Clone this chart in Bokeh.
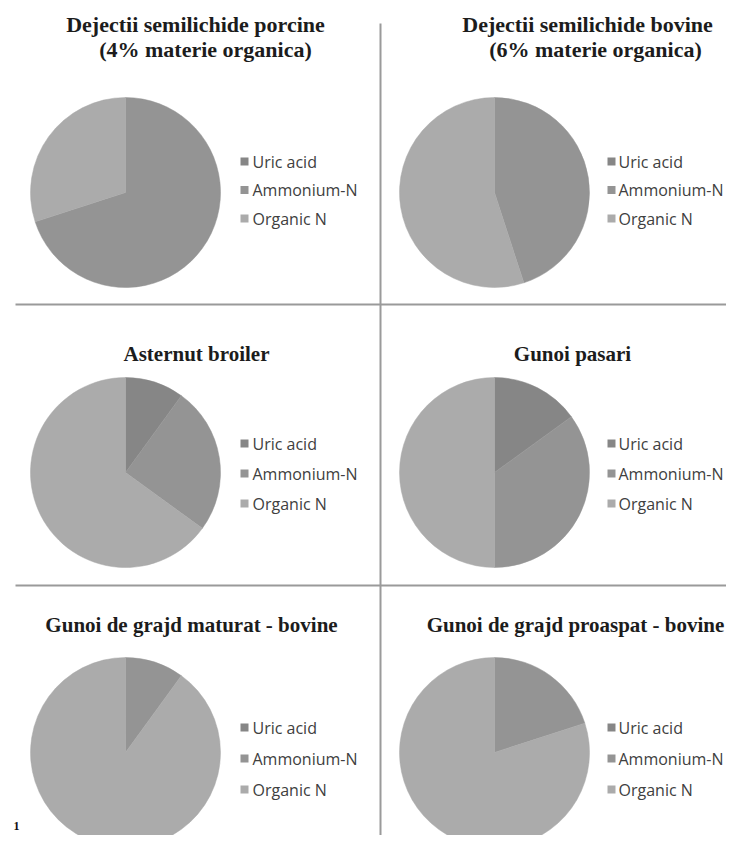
import math
from bokeh.plotting import figure
from bokeh.models import Range1d, ColumnDataSource
from bokeh.core.properties import value
from bokeh.embed import file_html
from bokeh.resources import INLINE

# ---- data ----
titles = [
    ["Dejectii semilichide porcine", "(4% materie organica)"],
    ["Dejectii semilichide bovine", "(6% materie organica)"],
    ["Asternut broiler"],
    ["Gunoi pasari"],
    ["Gunoi de grajd maturat - bovine"],
    ["Gunoi de grajd proaspat - bovine"],
]
categories = ["Uric acid", "Ammonium-N", "Organic N"]
uric_acid = [0, 0, 10, 15, 0, 0]
ammonium_n = [70, 45, 25, 35, 10, 20]
organic_n = [30, 55, 65, 50, 90, 80]
colors = ["#868686", "#949494", "#ababab"]

# ---- layout (picture pixel coordinates, y downward) ----
W, H = 726, 835
cx = [125, 494, 125, 494, 125, 494]
cy = [192, 192, 472, 472, 752, 752]
title_x = [[195, 205], [587, 595], [196], [572], [191], [575]]
title_y = [[24, 49], [24, 49], [353], [353], [624], [624]]
title_size = ["22px", "22px", "21px", "21px", "21px", "21px"]
legend_sq = [244, 611, 244, 611, 244, 611]
legend_tx = [252, 618, 252, 618, 252, 618]
legend_y0 = [161, 161, 443, 443, 727, 727]
legend_dy = [28.5, 28.5, 30, 30, 31, 31]
R = 95

def Y(v):
    return H - v

p = figure(width=W, height=H, x_range=Range1d(0, W), y_range=Range1d(0, H),
           output_backend="svg", toolbar_location=None, min_border=0,
           x_axis_location=None, y_axis_location=None)
p.grid.visible = False
p.outline_line_color = None
p.background_fill_color = "white"

# separators
p.line([380, 380], [Y(23), Y(851)], line_color="#9a9a9a", line_width=2)
p.line([15, 742], [Y(304), Y(304)], line_color="#9a9a9a", line_width=2)
p.line([15, 742], [Y(585), Y(585)], line_color="#9a9a9a", line_width=2)

wx, wy, ws, we, wc = [], [], [], [], []
for i in range(6):
    vals = [uric_acid[i], ammonium_n[i], organic_n[i]]
    tot = float(sum(vals))
    cum = 0.0
    for k, v in enumerate(vals):
        if v <= 0:
            continue
        a0 = cum / tot
        cum += v
        a1 = cum / tot
        wx.append(cx[i]); wy.append(Y(cy[i]))
        ws.append(math.pi / 2 - 2 * math.pi * a1)
        we.append(math.pi / 2 - 2 * math.pi * a0)
        wc.append(colors[k])

src = ColumnDataSource(dict(x=wx, y=wy, s=ws, e=we, c=wc))
p.wedge(x="x", y="y", radius=R, start_angle="s", end_angle="e",
        fill_color="c", line_color="c", line_width=0.5, source=src)

# titles
for i in range(6):
    p.text(x=title_x[i], y=[Y(v) for v in title_y[i]], text=titles[i],
           text_align="center", text_baseline="alphabetic",
           text_font=value("Liberation Serif"), text_font_style="bold",
           text_font_size=title_size[i], text_color="#1c1c1c")

# legends
lx, ly, lt, lc, sx = [], [], [], [], []
for i in range(6):
    for k, name in enumerate(categories):
        yy = Y(legend_y0[i] + k * legend_dy[i])
        sx.append(legend_sq[i]); lx.append(legend_tx[i]); ly.append(yy)
        lt.append(name); lc.append(colors[k])
p.rect(x=sx, y=ly, width=8, height=8, fill_color=lc, line_color=None)
p.text(x=lx, y=ly, text=lt, text_align="left", text_baseline="middle",
       text_font=value("Open Sans"), text_font_size="16px", text_color="#404040")

p.text(x=[16], y=[Y(825)], text=["1"], text_align="center", text_baseline="alphabetic",
       text_font=value("Liberation Serif"), text_font_style="bold",
       text_font_size="12px", text_color="#111111")

open("out.html", "w").write(file_html(p, INLINE))
